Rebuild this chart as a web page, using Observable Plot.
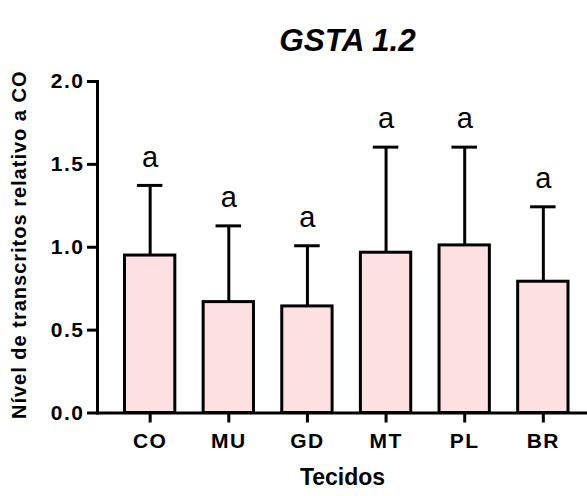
<!DOCTYPE html>
<html><head><meta charset="utf-8">
<script src="https://cdn.jsdelivr.net/npm/d3@7"></script>
<script src="https://cdn.jsdelivr.net/npm/@observablehq/plot@0.6"></script>
<style>
body{margin:0;background:#fff}
#chart svg{display:block}
g[aria-label="y-axis tick label"] text{letter-spacing:1.5px}
g[aria-label="x-axis tick label"] text{letter-spacing:1.5px}
.ylab text{letter-spacing:1px}
</style>
</head><body><div id="chart"></div>
<script>
const categories = ["CO","MU","GD","MT","PL","BR"];
const means = [0.950, 0.669, 0.643, 0.967, 1.011, 0.792];
const sds = [0.423, 0.460, 0.366, 0.637, 0.593, 0.452];
const letters = ["a","a","a","a","a","a"];
const yTicks = [0, 0.5, 1, 1.5, 2];
const title = "GSTA 1.2";
const xLabel = "Tecidos";
const yLabel = "Nível de transcritos relativo a CO";

const data = categories.map((c, i) => ({cat: c, mean: means[i], upper: means[i] + sds[i], letter: letters[i]}));
const font = "'Liberation Sans', Arial, sans-serif";

const plot = Plot.plot({
  width: 587, height: 496,
  marginTop: 81, marginBottom: 83.5, marginLeft: 97, marginRight: 0,
  style: {fontFamily: font, background: "#fff", color: "#000"},
  x: {type: "band", domain: categories, range: [124.5, 568], paddingInner: 0.36, paddingOuter: 0, round: false},
  y: {domain: [0, 2]},
  marks: [
    Plot.ruleX(data, {x: "cat", y1: "mean", y2: "upper", stroke: "#000", strokeWidth: 3}),
    Plot.tickY(data, {x: "cat", y: "upper", inset: 12.4, stroke: "#000", strokeWidth: 3}),
    Plot.barY(data, {x: "cat", y: "mean", fill: "#fde0e1", stroke: "#000", strokeWidth: 3}),
    Plot.text(data, {x: "cat", y: "upper", text: "letter", dy: -28, fontSize: 29, fill: "#000"}),
    Plot.frame({anchor: "left", strokeWidth: 3, stroke: "#000"}),
    Plot.frame({anchor: "bottom", strokeWidth: 3, stroke: "#000"}),
    Plot.axisY({ticks: yTicks, tickFormat: d3.format(".1f"), tickSize: 10, tickPadding: 3, strokeWidth: 3, fontSize: 21, fontWeight: "bold", label: null}),
    Plot.axisX({tickSize: 10, tickPadding: 10, strokeWidth: 3, fontSize: 21, fontWeight: "bold", label: null}),
    Plot.text([title], {frameAnchor: "top", dx: 5, dy: -53, fontSize: 31.5, fontWeight: "bold", fontStyle: "italic", fill: "#000"}),
    Plot.text([xLabel], {frameAnchor: "bottom", dy: 71.8, fontSize: 23, fontWeight: "bold", fill: "#000"}),
    Plot.text([yLabel], {frameAnchor: "left", textAnchor: "middle", rotate: -90, dx: -78, dy: -2.5, fontSize: 20, fontWeight: "bold", fill: "#000", className: "ylab"})
  ]
});
document.getElementById("chart").appendChild(plot);
</script>
</body></html>
